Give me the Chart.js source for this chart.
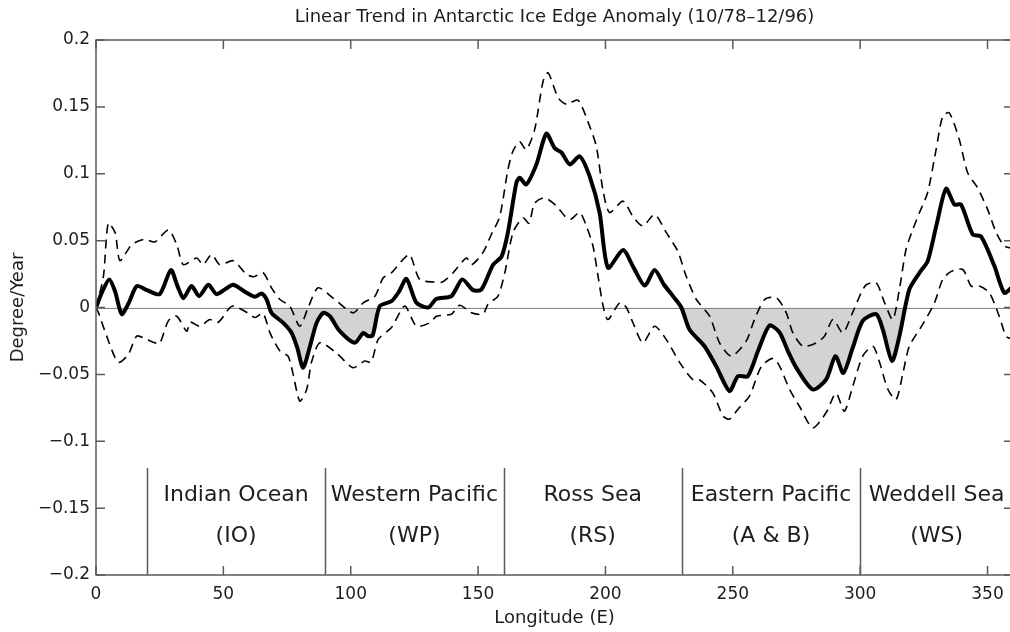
<!DOCTYPE html>
<html>
<head>
<meta charset="utf-8">
<script src="https://cdn.jsdelivr.net/npm/chart.js@4.4.0/dist/chart.umd.min.js"></script>
<style>
html,body{margin:0;padding:0;background:#fff;overflow:hidden;}
#wrap{width:1016px;height:632px;}
canvas{display:block;}
</style>
</head>
<body>
<div id="wrap"><canvas id="c" width="1016" height="632"></canvas></div>
<script>
// ---- data ----
const meanLon = [0,2.5,5.2,7.5,10.1,13,16,20,25,29.4,32,34.3,37.5,40.5,44.1,47.3,51,53.9,59.1,62.4,65,67,68.9,73.5,76.8,79,81.3,84,86.6,89.2,91.8,95.7,101.6,104.9,106.8,108.6,111.4,116,119,121.9,125.8,130.4,133.7,139.5,143.8,148,151.3,155.9,159.2,161.7,165,166.3,168.9,172.9,176.8,180.1,182.7,186,189.9,193.8,197.7,201,206.9,211,215.4,219.3,223,226.5,229.8,233,238.9,243.5,248.7,252,255.9,260,264.4,268.3,271.5,274.9,281.4,286.6,290.3,293.4,297.1,301,306.3,308.9,312.5,315.4,319.3,323.3,326.5,330,333.7,337,339.6,344.2,347.5,352.7,356.6,360];
const meanVal = [0,0.012,0.021,0.012,-0.005,0.004,0.016,0.013,0.010,0.028,0.016,0.007,0.016,0.0085,0.017,0.010,0.014,0.017,0.011,0.008,0.0105,0.006,-0.004,-0.0115,-0.019,-0.030,-0.045,-0.029,-0.0115,-0.004,-0.0065,-0.0177,-0.0264,-0.019,-0.0214,-0.021,0.001,0.0047,0.012,0.0214,0.0035,0,0.0065,0.0085,0.021,0.013,0.0135,0.032,0.038,0.056,0.093,0.097,0.092,0.107,0.130,0.119,0.116,0.107,0.113,0.098,0.071,0.0297,0.043,0.030,0.0164,0.028,0.017,0.0085,0,-0.0165,-0.029,-0.044,-0.0625,-0.0514,-0.0514,-0.032,-0.0135,-0.0185,-0.032,-0.045,-0.0613,-0.054,-0.0364,-0.049,-0.030,-0.010,-0.005,-0.0165,-0.040,-0.0214,0.0135,0.026,0.0347,0.062,0.0888,0.077,0.077,0.0546,0.053,0.031,0.011,0.016];

const upperLon = [0,2.9,4.8,7.5,9.4,14,19.2,23.1,28.4,31.7,34.3,39.5,42,45.4,48.6,53.9,59.1,62,65.6,68.9,72.2,76.1,80,83.3,87.2,93.1,100.9,104.9,109.5,112.7,116,120.6,123.2,127.1,133,136,140.2,145.4,147.5,151.9,155.2,158.5,161.7,163.7,166.3,168.9,172.2,175.5,177.5,181.4,184.7,189.2,193.1,196.4,199,201.6,206.9,210.8,214.7,219.3,223.9,228.4,231.7,235.7,240.9,244.8,249.4,255.3,258.5,262.5,267.1,271,273.6,277.6,282.8,286,289.3,293.2,297.1,300.4,302.4,306.3,309.6,312.8,315.4,318,320.6,323.3,326.5,329.8,332.4,335,338.9,342.2,346.1,350.1,353.4,356.6,360];
const upperVal = [0,0.023,0.063,0.056,0.035,0.047,0.051,0.049,0.058,0.047,0.032,0.037,0.032,0.0396,0.032,0.035,0.0247,0.023,0.026,0.0147,0.006,0.001,-0.014,0,0.0147,0.007,-0.004,0.0035,0.0085,0.022,0.026,0.036,0.0396,0.021,0.019,0.019,0.026,0.037,0.032,0.041,0.0546,0.068,0.103,0.117,0.124,0.118,0.133,0.169,0.1755,0.157,0.152,0.155,0.139,0.1206,0.088,0.071,0.0795,0.068,0.061,0.0695,0.056,0.042,0.0234,0.006,-0.0065,-0.0264,-0.0364,-0.025,-0.009,0.006,0.0073,-0.004,-0.019,-0.029,-0.0264,-0.0214,-0.009,-0.019,-0.0035,0.011,0.017,0.0185,0.0035,-0.009,0.0135,0.0434,0.058,0.071,0.086,0.118,0.143,0.1455,0.1256,0.1007,0.0895,0.073,0.056,0.046,0.044];

const lowerLon = [0,1,4.2,8.7,12.7,16,20,23.1,25,28.4,31.7,35.6,37,40.8,44.7,48,52.6,54.5,60.4,62.4,65.6,68.3,72.2,75.4,77.4,80,82.7,84.6,87.9,94.4,100.9,105.5,108,110.8,116,121.2,125.8,131,133.7,139.5,142.8,147.4,151.9,153.9,157.8,160.5,163.7,167.6,170,172.2,176.1,180.7,184.7,186.5,189.9,192.5,195.1,197.1,199.1,201,205.6,208.2,210.8,214.7,219.3,223.9,229.1,234.3,236.9,242.2,246.1,248.7,252,256.6,261.2,265.8,268.4,272.3,276.2,281.4,286.6,290.5,293.8,297.1,301,305,307.6,310.9,314.1,316.8,319.3,324.6,329.2,332.4,335.8,340.3,343.6,346.8,350.7,354.6,357.3,360];
const lowerVal = [0,-0.004,-0.0214,-0.041,-0.035,-0.0214,-0.024,-0.0264,-0.027,-0.010,-0.0065,-0.0177,-0.011,-0.014,-0.009,-0.011,0,0.001,-0.005,-0.0075,-0.0045,-0.019,-0.0326,-0.0364,-0.050,-0.070,-0.0613,-0.041,-0.0264,-0.034,-0.045,-0.040,-0.041,-0.0239,-0.015,0.001,-0.014,-0.0114,-0.0065,-0.005,0.0017,-0.004,-0.005,0.0025,0.0085,0.026,0.056,0.067,0.063,0.078,0.082,0.076,0.067,0.066,0.071,0.061,0.046,0.0234,0.001,-0.009,0.0035,0,-0.0114,-0.0264,-0.014,-0.024,-0.041,-0.054,-0.054,-0.064,-0.081,-0.0835,-0.076,-0.066,-0.044,-0.038,-0.044,-0.0613,-0.074,-0.090,-0.0787,-0.064,-0.0775,-0.0589,-0.0364,-0.029,-0.041,-0.0613,-0.0688,-0.049,-0.029,-0.0125,0.0035,0.021,0.027,0.0284,0.016,0.016,0.011,-0.0065,-0.0214,-0.024];

const xTickValues = [0,50,100,150,200,250,300,350];
const xTickLabels = ['0','50','100','150','200','250','300','350'];
const yTickValues = [-0.2,-0.15,-0.1,-0.05,0,0.05,0.1,0.15,0.2];
const yTickLabels = ['\u22120.2','\u22120.15','\u22120.1','\u22120.05','0','0.05','0.1','0.15','0.2'];

const regionBounds = [20,90,160,230,300];
const regionNames = ['Indian Ocean','Western Pacific','Ross Sea','Eastern Pacific','Weddell Sea'];
const regionCodes = ['(IO)','(WP)','(RS)','(A & B)','(WS)'];
const regionCenters = [55,125,195,265,330];

const titleText = 'Linear Trend in Antarctic Ice Edge Anomaly (10/78\u201312/96)';
const xTitle = 'Longitude (E)';
const yTitle = 'Degree/Year';

const pts = (xs, ys) => xs.map((x, i) => ({x, y: ys[i]}));
const FONT = "'DejaVu Sans', sans-serif";
const TXT = '#1e1e1e';
const AX = '#5a5a5a';

const decor = {
  id: 'decor',
  beforeDatasetsDraw(chart) {
    const {ctx, chartArea: a, scales: {x, y}} = chart;
    ctx.save();
    const y0 = Math.round(y.getPixelForValue(0)) + 0.5;
    ctx.strokeStyle = '#858585';
    ctx.lineWidth = 1;
    ctx.beginPath(); ctx.moveTo(a.left, y0); ctx.lineTo(a.right, y0); ctx.stroke();
    ctx.restore();
  },
  afterDatasetsDraw(chart) {
    const {ctx, chartArea: a, scales: {x, y}} = chart;
    ctx.save();
    ctx.strokeStyle = AX;
    ctx.lineWidth = 1.5;
    // frame
    ctx.strokeRect(a.left, a.top, a.right - a.left, a.bottom - a.top);
    // inward ticks on all four sides
    const tl = 9;
    ctx.beginPath();
    xTickValues.forEach(v => {
      const px = x.getPixelForValue(v);
      ctx.moveTo(px, a.bottom); ctx.lineTo(px, a.bottom - tl);
      ctx.moveTo(px, a.top); ctx.lineTo(px, a.top + tl);
    });
    yTickValues.forEach(v => {
      const py = y.getPixelForValue(v);
      ctx.moveTo(a.left, py); ctx.lineTo(a.left + tl, py);
      ctx.moveTo(a.right, py); ctx.lineTo(a.right - tl, py);
    });
    ctx.stroke();
    // region dividers
    const yTop = y.getPixelForValue(-0.12);
    ctx.beginPath();
    regionBounds.forEach(v => {
      const px = Math.round(x.getPixelForValue(v)) + 0.5;
      ctx.moveTo(px, yTop); ctx.lineTo(px, a.bottom);
    });
    ctx.stroke();
    // region labels
    ctx.fillStyle = TXT;
    ctx.font = '22px ' + FONT;
    ctx.textAlign = 'center';
    ctx.textBaseline = 'middle';
    regionNames.forEach((n, i) => {
      const px = x.getPixelForValue(regionCenters[i]);
      ctx.fillText(n, px, y.getPixelForValue(-0.1405));
      ctx.fillText(regionCodes[i], px, y.getPixelForValue(-0.171));
    });
    ctx.restore();
  }
};

new Chart(document.getElementById('c'), {
  type: 'line',
  data: {
    datasets: [
      {
        label: 'Trend',
        data: pts(meanLon, meanVal),
        borderColor: '#000',
        borderWidth: 4,
        pointRadius: 0,
        tension: 0.25,
        fill: {target: {value: 0}, above: 'rgba(0,0,0,0)', below: '#d3d3d3'}
      },
      {
        label: 'Upper',
        data: pts(upperLon, upperVal),
        borderColor: '#000',
        borderWidth: 1.6,
        borderDash: [9, 6],
        pointRadius: 0,
        tension: 0.25,
        fill: false
      },
      {
        label: 'Lower',
        data: pts(lowerLon, lowerVal),
        borderColor: '#000',
        borderWidth: 1.6,
        borderDash: [9, 6],
        pointRadius: 0,
        tension: 0.25,
        fill: false
      }
    ]
  },
  options: {
    responsive: false,
    animation: false,
    layout: {padding: {top: 0, right: 3, left: 0, bottom: 0}},
    plugins: {
      legend: {display: false},
      tooltip: {enabled: false},
      filler: {drawTime: 'beforeDraw'},
      title: {
        display: true,
        text: titleText,
        fullSize: false,
        color: TXT,
        font: {family: FONT, size: 18, weight: 'normal'},
        padding: {top: 7, bottom: 11.4}
      }
    },
    scales: {
      x: {
        type: 'linear',
        min: 0, max: 360,
        afterBuildTicks: s => { s.ticks = xTickValues.map(v => ({value: v})); },
        afterFit: s => { s.height = 57; },
        grid: {display: false, drawTicks: false},
        border: {display: false},
        ticks: {
          color: TXT,
          font: {family: FONT, size: 17},
          padding: 9,
          maxRotation: 0,
          autoSkip: false,
          callback: (v) => xTickLabels[xTickValues.indexOf(v)]
        },
        title: {
          display: true, text: xTitle, color: TXT,
          font: {family: FONT, size: 18},
          padding: {top: 0, bottom: 3}
        }
      },
      y: {
        type: 'linear',
        min: -0.2, max: 0.2,
        afterBuildTicks: s => { s.ticks = yTickValues.map(v => ({value: v})); },
        afterFit: s => { s.width = 96; },
        grid: {display: false, drawTicks: false},
        border: {display: false},
        ticks: {
          color: TXT,
          font: {family: FONT, size: 17},
          padding: 6,
          autoSkip: false,
          callback: (v) => yTickLabels[yTickValues.indexOf(v)]
        },
        title: {
          display: true, text: yTitle, color: TXT,
          font: {family: FONT, size: 18},
          padding: {top: 8, bottom: 0}
        }
      }
    }
  },
  plugins: [decor]
});
</script>
</body>
</html>
